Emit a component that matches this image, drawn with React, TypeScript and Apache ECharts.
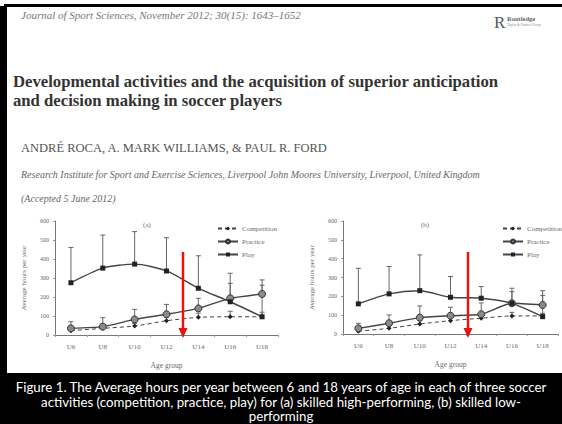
import React, { useEffect, useRef } from "react";
import * as echarts from "echarts";

const categories = ["U6", "U8", "U10", "U12", "U14", "U16", "U18"];
const yTicks = [0, 100, 200, 300, 400, 500, 600];

const aCompetition = [23, 35, 47, 75, 93, 96, 96];
const aPractice = [35, 44, 82, 109, 140, 193, 216];
const aPlay = [275, 352, 373, 337, 246, 175, 96];
const aCompetitionTop = [40, 50, 60, 95, 115, 125, 120];
const aPracticeTop = [70, 91, 135, 161, 193, 272, 262];
const aPlayTop = [461, 526, 544, 512, 417, 325, 290];

const bCompetition = [15, 30, 53, 71, 84, 96, 96];
const bPractice = [30, 57, 87, 97, 105, 163, 154];
const bPlay = [160, 213, 230, 195, 190, 163, 92];
const bCompetitionTop = [30, 45, 70, 90, 100, 115, 110];
const bPracticeTop = [57, 101, 149, 142, 165, 225, 205];
const bPlayTop = [349, 358, 420, 305, 252, 243, 230];

const seriesNames = ["Competition", "Practice", "Play"];

const journalLine = "Journal of Sport Sciences, November 2012; 30(15): 1643–1652";
const titleLines = [
  "Developmental activities and the acquisition of superior anticipation",
  "and decision making in soccer players",
];
const authors = "ANDRÉ ROCA, A. MARK WILLIAMS, & PAUL R. FORD";
const affiliation =
  "Research Institute for Sport and Exercise Sciences, Liverpool John Moores University, Liverpool, United Kingdom";
const accepted = "(Accepted 5 June 2012)";
const captionLines = [
  "Figure 1. The Average hours per year between 6 and 18 years of age in each of three soccer",
  "activities (competition, practice, play) for (a) skilled high-performing, (b) skilled low-",
  "performing",
];

const SERIF = "Liberation Serif";
const INK = "#444444";
const TXT = "#6a6a6a";

function errSeries(gi: number, vals: number[], tops: number[]) {
  return {
    type: "custom",
    xAxisIndex: gi,
    yAxisIndex: gi,
    silent: true,
    z: 1,
    data: vals.map((v, i) => [i, v, tops[i]]),
    encode: { x: 0, y: [1, 2] },
    renderItem: (params: any, api: any) => {
      const x = api.value(0);
      const p1 = api.coord([x, api.value(1)]);
      const p2 = api.coord([x, api.value(2)]);
      const st = { stroke: "#666", lineWidth: 1 };
      return {
        type: "group",
        children: [
          { type: "line", shape: { x1: p1[0], y1: p1[1], x2: p2[0], y2: p2[1] }, style: st },
          { type: "line", shape: { x1: p2[0] - 2.5, y1: p2[1], x2: p2[0] + 2.5, y2: p2[1] }, style: st },
        ],
      };
    },
  };
}

function lineSeries(gi: number, comp: number[], prac: number[], play: number[]) {
  return [
    {
      name: "Competition",
      type: "line",
      xAxisIndex: gi,
      yAxisIndex: gi,
      data: comp,
      symbol: "diamond",
      symbolSize: 5,
      smooth: 0.2,
      z: 3,
      lineStyle: { color: INK, width: 1, type: [4, 3] },
      itemStyle: { color: "#222" },
    },
    {
      name: "Practice",
      type: "line",
      xAxisIndex: gi,
      yAxisIndex: gi,
      data: prac,
      symbol: "circle",
      symbolSize: 7,
      smooth: 0.2,
      z: 3,
      lineStyle: { color: INK, width: 1.4 },
      itemStyle: { color: "#8a8a8a", borderColor: "#333", borderWidth: 1 },
    },
    {
      name: "Play",
      type: "line",
      xAxisIndex: gi,
      yAxisIndex: gi,
      data: play,
      symbol: "rect",
      symbolSize: 5,
      smooth: 0.25,
      z: 3,
      lineStyle: { color: INK, width: 1.4 },
      itemStyle: { color: "#222" },
    },
  ];
}

function xAxisCfg(gi: number) {
  return {
    type: "category",
    gridIndex: gi,
    data: categories,
    boundaryGap: true,
    name: "Age group",
    nameLocation: "middle",
    nameGap: 26,
    nameTextStyle: { fontSize: 7.5, color: TXT, fontFamily: SERIF },
    axisLine: { lineStyle: { color: "#777", width: 1 } },
    axisTick: { show: true, length: 2, lineStyle: { color: "#999" } },
    axisLabel: { fontSize: 7, color: TXT, fontFamily: SERIF, margin: 8 },
  };
}

function yAxisCfg(gi: number) {
  return {
    type: "value",
    gridIndex: gi,
    min: yTicks[0],
    max: yTicks[yTicks.length - 1],
    interval: yTicks[1] - yTicks[0],
    name: "Average hours per year",
    nameLocation: "middle",
    nameGap: 28,
    nameTextStyle: { fontSize: 7, color: TXT, fontFamily: SERIF },
    axisLine: { show: true, lineStyle: { color: "#777", width: 1 } },
    axisTick: { show: true, length: 2, lineStyle: { color: "#999" } },
    splitLine: { show: false },
    axisLabel: { fontSize: 6, color: TXT, fontFamily: SERIF, margin: 6 },
  };
}

function legendCfg(left: number) {
  return {
    data: seriesNames,
    orient: "vertical",
    left,
    top: 220,
    itemWidth: 20,
    itemHeight: 5,
    itemGap: 6,
    textStyle: { fontSize: 7, color: TXT, fontFamily: SERIF, padding: [0, 0, 0, -1] },
  };
}

function arrow(x: number) {
  return [
    { type: "line", shape: { x1: x, y1: 252, x2: x, y2: 330 }, style: { stroke: "#e8140f", lineWidth: 2.5 }, z: 100 },
    {
      type: "polygon",
      shape: { points: [[x - 4.5, 328], [x + 4.5, 328], [x, 338]] },
      style: { fill: "#e8140f" },
      z: 100,
    },
  ];
}

export default function App() {
  const ref = useRef<HTMLDivElement>(null);
  useEffect(() => {
    if (!ref.current) return;
    const chart = echarts.init(ref.current, null, { renderer: "svg" });
    const graphics: any[] = [
      { type: "rect", shape: { x: 0, y: 0, width: 562, height: 424 }, style: { fill: "#ffffff" }, z: -10 },
      { type: "rect", shape: { x: 4, y: 4, width: 558, height: 3 }, style: { fill: "#000" }, z: 50 },
      { type: "rect", shape: { x: 0, y: 6, width: 7, height: 418 }, style: { fill: "#000" }, z: 50 },
      {
        type: "text",
        x: 21,
        y: 15,
        style: { text: journalLine, fontSize: 11, fontStyle: "italic", fontFamily: SERIF, fill: "#777", verticalAlign: "middle" },
      },
      {
        type: "text",
        x: 494,
        y: 22,
        style: { text: "R", fontSize: 17, fontFamily: SERIF, fill: "#555", verticalAlign: "middle" },
      },
      {
        type: "text",
        x: 507,
        y: 18,
        style: { text: "Routledge", fontSize: 6.5, fontWeight: "bold", fontFamily: SERIF, fill: "#666", verticalAlign: "middle" },
      },
      {
        type: "text",
        x: 507,
        y: 25,
        style: { text: "Taylor & Francis Group", fontSize: 3.5, fontFamily: SERIF, fill: "#888", verticalAlign: "middle" },
      },
      ...titleLines.map((t, i) => ({
        type: "text",
        x: 13,
        y: 81 + i * 19,
        style: { text: t, fontSize: 16.7, fontWeight: "bold", fontFamily: SERIF, fill: "#333", verticalAlign: "middle" },
      })),
      {
        type: "text",
        x: 21,
        y: 148,
        style: { text: authors, fontSize: 12.5, fontFamily: SERIF, fill: "#555", verticalAlign: "middle" },
      },
      {
        type: "text",
        x: 21,
        y: 174,
        style: { text: affiliation, fontSize: 10, fontStyle: "italic", fontFamily: SERIF, fill: "#666", verticalAlign: "middle" },
      },
      {
        type: "text",
        x: 21,
        y: 198,
        style: { text: accepted, fontSize: 10, fontStyle: "italic", fontFamily: SERIF, fill: "#666", verticalAlign: "middle" },
      },
      {
        type: "text",
        x: 147,
        y: 225,
        style: { text: "(a)", fontSize: 7, fontFamily: SERIF, fill: TXT, align: "center", verticalAlign: "middle" },
      },
      {
        type: "text",
        x: 425,
        y: 225,
        style: { text: "(b)", fontSize: 7, fontFamily: SERIF, fill: TXT, align: "center", verticalAlign: "middle" },
      },
      ...arrow(183),
      ...arrow(468),
      { type: "rect", shape: { x: 0, y: 373, width: 562, height: 51 }, style: { fill: "#000" }, z: 60 },
      ...captionLines.map((t, i) => ({
        type: "text",
        x: 281,
        y: 387 + i * 14.5,
        z: 61,
        style: { text: t, fontSize: 13.3, fontFamily: "Lato", fill: "#fff", align: "center", verticalAlign: "middle" },
      })),
    ];

    chart.setOption({
      animation: false,
      backgroundColor: "#ffffff",
      grid: [
        { left: 55, top: 221, width: 223, height: 114 },
        { left: 343, top: 221, width: 215, height: 113 },
      ],
      xAxis: [xAxisCfg(0), xAxisCfg(1)],
      yAxis: [yAxisCfg(0), yAxisCfg(1)],
      legend: [legendCfg(212), legendCfg(497)],
      series: [
        errSeries(0, aCompetition, aCompetitionTop),
        errSeries(0, aPractice, aPracticeTop),
        errSeries(0, aPlay, aPlayTop),
        ...lineSeries(0, aCompetition, aPractice, aPlay),
        errSeries(1, bCompetition, bCompetitionTop),
        errSeries(1, bPractice, bPracticeTop),
        errSeries(1, bPlay, bPlayTop),
        ...lineSeries(1, bCompetition, bPractice, bPlay),
      ],
      graphic: graphics,
    });
    return () => chart.dispose();
  }, []);
  return (
    <div
      ref={ref}
      style={{ position: "absolute", left: 0, top: 0, width: 562, height: 424, background: "#fff" }}
    />
  );
}
